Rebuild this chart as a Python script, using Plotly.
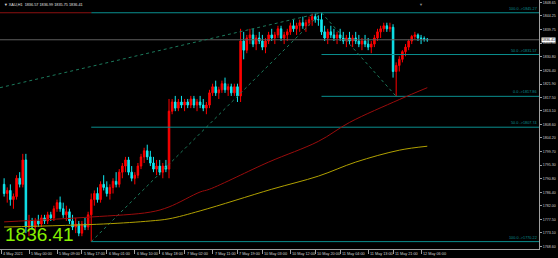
import plotly.graph_objects as go

# ---------------- data ----------------
opens  = [1789,1786,1787,1784,1785,1791,1789,1797,1775,1777,1775,1777,1776,1778,1777,1779,1778,1781,1783,1781,
          1779,1780,1777,1775,1776,1773,1776,1775,1779,1784,1786,1784,1789,1788,1786,1788,1790,1789,1793,1795,
          1797,1793,1791,1792,1795,1798,1800,1798,1796,1794,1795,1793,1795,1794,1813,1816,1814,1816,1815,1816,
          1815,1817,1815,1816,1815,1814,1815,1819,1821,1819,1820,1822,1820,1821,1819,1821,1818,1836,1833,1837,
          1838,1835,1837,1836,1834,1836,1838,1837,1838,1840,1837,1838,1839,1841,1840,1841,1842,1841,1842,1843,
          1844,1843,1843,1839,1837,1839,1838,1837,1838,1837,1836,1837,1836,1837,1836,1835,1836,1835,1834,1835,
          1837,1839,1840,1841,1840,1840.5,1826,1828,1830,1832.5,1834,1836,1837.5,1838,1837,1836.8,1836.57]
highs  = [1791,1788,1789,1786,1792,1793,1799,1799,1779,1778,1778,1779,1779,1779,1780,1780,1782,1784,1785,1783,
          1782,1781,1779,1778,1777,1777,1778,1780,1786,1787,1788,1790,1792,1790,1789,1791,1793,1794,1796,1798,
          1798,1795,1793,1796,1799,1801,1802,1800,1798,1797,1797,1796,1797,1817,1817,1818,1817,1818,1817,1817,
          1818,1818,1817,1818,1817,1816,1820,1822,1823,1821,1823,1824,1822,1822,1822,1822,1840,1839,1838,1840,
          1840,1838,1839,1838,1837,1839,1840,1839,1841,1841,1839,1840,1842,1843,1842,1843,1844,1843,1844,1845,
          1845,1844.5,1845.27,1841,1840,1841,1840,1839,1840,1839,1838,1839,1838,1839,1838,1837,1838,1837,1836,1838,
          1840,1841,1842,1842,1842,1841.5,1829,1831,1833,1835,1836.5,1838,1839,1838.5,1838,1837.5,1836.99]
lows   = [1785,1783,1782,1781,1784,1788,1788,1773,1772,1774,1773,1775,1775,1776,1776,1777,1777,1780,1780,1778,
          1777,1776,1774,1773,1772,1772,1774,1774,1770.22,1782,1783,1783,1787,1785,1784,1786,1788,1788,1791,1793,
          1792,1790,1789,1791,1794,1796,1797,1795,1793,1792,1792,1791,1793,1791,1812,1813,1813,1814,1813,1814,
          1814,1814,1813,1814,1813,1812,1814,1818,1818,1817,1819,1819,1818,1818,1818,1816,1816,1830,1832,1835,
          1834,1833,1835,1833,1832,1835,1836,1835,1837,1836,1835,1836,1838,1839,1838,1839,1840,1839,1841,1841,
          1842,1841,1838,1836,1835,1837,1836,1835,1836,1835,1834,1835,1834,1835,1834,1833,1834,1833,1832,1834,
          1836,1837,1839,1839,1839,1824,1817.86,1826,1829,1831,1833,1835,1836.5,1836,1835,1835.8,1835.75]
closes = [1786,1787,1784,1785,1791,1789,1797,1775,1777,1775,1777,1776,1778,1777,1779,1778,1781,1783,1781,1779,
          1780,1777,1775,1776,1773,1776,1775,1779,1784,1786,1784,1789,1788,1786,1788,1790,1789,1793,1795,1797,
          1793,1791,1792,1795,1798,1800,1798,1796,1794,1795,1793,1795,1794,1813,1816,1814,1816,1815,1816,1815,
          1817,1815,1816,1815,1814,1815,1819,1821,1819,1820,1822,1820,1821,1819,1821,1818,1836,1833,1837,1838,
          1835,1837,1836,1834,1836,1838,1837,1838,1840,1837,1838,1839,1841,1840,1841,1842,1841,1842,1843,1844,
          1843,1843,1839,1837,1839,1838,1837,1838,1837,1836,1837,1836,1837,1836,1835,1836,1835,1834,1835,1837,
          1839,1840,1841,1840,1840.5,1826,1828,1830,1832.5,1834,1836,1837.5,1838,1837,1836.8,1836.57,1836.41]
bars = list(range(len(opens)))

ma_red_bars = [0, 28, 47, 53, 63, 66, 85, 101, 111, 127, 136]
ma_red_vals = [1776.7, 1778.3, 1779.9, 1781.6, 1786.5, 1787.4, 1796.3, 1803.1, 1809.3, 1816.8, 1820.7]
ma_yel_bars = [0, 32, 47, 53, 63, 86, 101, 113, 127, 136]
ma_yel_vals = [1775.0, 1776.0, 1777.0, 1777.7, 1780.3, 1787.4, 1791.7, 1796.3, 1800.2, 1801.5]

fib1_low_bar, fib1_low = 28, 1770.22
fib1_high_bar, fib1_high = 102, 1845.27
fib1_levels = [1770.22, 1807.74, 1845.27]
fib1_labels = ["100.0 ->1770.22", "50.0 ->1807.74", ""]
fib2_low_bar, fib2_low = 126, 1817.86
fib2_levels = [1845.27, 1831.57, 1817.86]
fib2_labels = ["100.0 ->1845.27", "50.0 ->1831.57", "0.0 ->1817.86"]
trend_start_bar, trend_start_val = -1.3, 1820.7
bid_price = 1836.41

xtick_bars = [-1, 8, 17, 25, 33, 42, 50, 58, 67, 75, 83, 92, 100, 108, 117, 125, 134]
xtick_text = ["4 May 2021", "5 May 00:00", "5 May 09:00", "5 May 17:00", "6 May 01:00", "6 May 10:00",
              "6 May 18:00", "7 May 02:00", "7 May 11:00", "7 May 19:00", "10 May 03:00", "10 May 12:00",
              "10 May 20:00", "11 May 04:00", "11 May 13:00", "11 May 21:00", "12 May 06:00"]
ytick_vals = [1848.65, 1844.25, 1839.75, 1835.30, 1830.80, 1826.40, 1821.90, 1817.50, 1813.10, 1808.60,
              1804.20, 1799.70, 1795.30, 1790.80, 1786.40, 1782.00, 1777.50, 1773.10, 1768.60]
ytick_text = ["%.2f" % v for v in ytick_vals]

X_MIN, X_MAX = -1.32, 171.9
Y_MIN, Y_MAX = 1767.8, 1849.45

TEAL = "#0a8f8f"
DOT = "#1c7a5c"

fig = go.Figure()

for lv in fib1_levels:
    fig.add_trace(go.Scatter(x=[fib1_low_bar, X_MAX], y=[lv, lv], mode="lines",
                             line=dict(color=TEAL, width=1), hoverinfo="skip", showlegend=False))
for lv in fib2_levels[1:]:
    fig.add_trace(go.Scatter(x=[fib1_high_bar, X_MAX], y=[lv, lv], mode="lines",
                             line=dict(color=TEAL, width=1), hoverinfo="skip", showlegend=False))
fig.add_trace(go.Scatter(x=[X_MIN, fib1_low_bar], y=[fib1_high, fib1_high], mode="lines",
                         line=dict(color="#8b1010", width=1), hoverinfo="skip", showlegend=False))
fig.add_trace(go.Scatter(x=[X_MIN, X_MAX], y=[bid_price, bid_price], mode="lines",
                         line=dict(color="#5e5e5e", width=1), hoverinfo="skip", showlegend=False))
fig.add_trace(go.Scatter(x=[fib1_low_bar, fib1_high_bar], y=[fib1_low, fib1_high], mode="lines",
                         line=dict(color=DOT, width=1, dash="dot"), hoverinfo="skip", showlegend=False))
fig.add_trace(go.Scatter(x=[fib1_high_bar, fib2_low_bar], y=[fib1_high, fib2_low], mode="lines",
                         line=dict(color=DOT, width=1, dash="dot"), hoverinfo="skip", showlegend=False))
fig.add_trace(go.Scatter(x=[trend_start_bar, fib1_high_bar], y=[trend_start_val, fib1_high], mode="lines",
                         line=dict(color=DOT, width=1, dash="dot"), hoverinfo="skip", showlegend=False))

fig.add_trace(go.Scatter(x=ma_red_bars, y=ma_red_vals, mode="lines", line=dict(color="#9a0c0c", width=1, shape="spline"),
                         hoverinfo="skip", showlegend=False))
fig.add_trace(go.Scatter(x=ma_yel_bars, y=ma_yel_vals, mode="lines", line=dict(color="#b0a000", width=1, shape="spline"),
                         hoverinfo="skip", showlegend=False))

fig.add_trace(go.Candlestick(x=bars, open=opens, high=highs, low=lows, close=closes,
                             increasing=dict(line=dict(color="#ff0000", width=1), fillcolor="#ff0000"),
                             decreasing=dict(line=dict(color="#10e8f0", width=1), fillcolor="#10e8f0"),
                             whiskerwidth=0, showlegend=False))

ann = []
for lv, t in zip(fib1_levels, fib1_labels):
    if t:
        ann.append(dict(x=1, xref="paper", y=lv, yref="y", text=t, showarrow=False, xanchor="right",
                        yanchor="bottom", font=dict(size=3.8, color=TEAL, family="Liberation Sans")))
for lv, t in zip(fib2_levels, fib2_labels):
    ann.append(dict(x=1, xref="paper", y=lv, yref="y", text=t, showarrow=False, xanchor="right",
                    yanchor="bottom", font=dict(size=3.8, color=TEAL, family="Liberation Sans")))
ann.append(dict(x=1.003, xref="paper", y=bid_price, yref="y", text="%.2f" % bid_price, showarrow=False,
                xanchor="left", yanchor="middle", bgcolor="#ffffff", borderpad=0,
                font=dict(size=3.6, color="#000000", family="Liberation Sans")))
ann.append(dict(x=0.006, xref="paper", y=1768.3, yref="y", text="%.2f" % bid_price, showarrow=False,
                xanchor="left", yanchor="bottom", font=dict(size=19, color="#86f000", family="Liberation Sans")))
ann.append(dict(x=0.004, xref="paper", y=0.995, yref="paper",
                text="▼ XAU,H1  1836.57 1836.99 1835.75 1836.41", showarrow=False,
                xanchor="left", yanchor="top", font=dict(size=3.8, color="#e0e0e0", family="Liberation Sans")))
ann.append(dict(x=134, xref="x", y=1, yref="paper", text="▼", showarrow=False, xanchor="center", yanchor="top",
                font=dict(size=4, color="#909090")))
for b, t in zip(xtick_bars, xtick_text):
    ann.append(dict(x=b, xref="x", y=0, yref="paper", yshift=-2, xshift=1, text=t, showarrow=False,
                    xanchor="left", yanchor="top", borderpad=0,
                    font=dict(size=3.8, color="#d0d0d0", family="Liberation Sans")))

fig.update_layout(
    width=558, height=258, margin=dict(l=0, r=19, t=0, b=9),
    paper_bgcolor="#000000", plot_bgcolor="#000000",
    annotations=ann,
    xaxis=dict(range=[X_MIN, X_MAX], showgrid=False, zeroline=False, rangeslider=dict(visible=False),
               automargin=False, showticklabels=False,
               tickmode="array", tickvals=xtick_bars, ticks="outside", ticklen=4,
               tickcolor="#a0a0a0", showline=True, linecolor="#a0a0a0", linewidth=1),
    yaxis=dict(range=[Y_MIN, Y_MAX], side="right", showgrid=False, zeroline=False, automargin=False,
               tickmode="array", tickvals=ytick_vals, ticktext=ytick_text, ticks="outside", ticklen=2,
               tickcolor="#a0a0a0", tickfont=dict(size=3.6, color="#d0d0d0", family="Liberation Sans"),
               showline=True, linecolor="#a0a0a0", linewidth=1),
)

fig.write_html("out.html")
